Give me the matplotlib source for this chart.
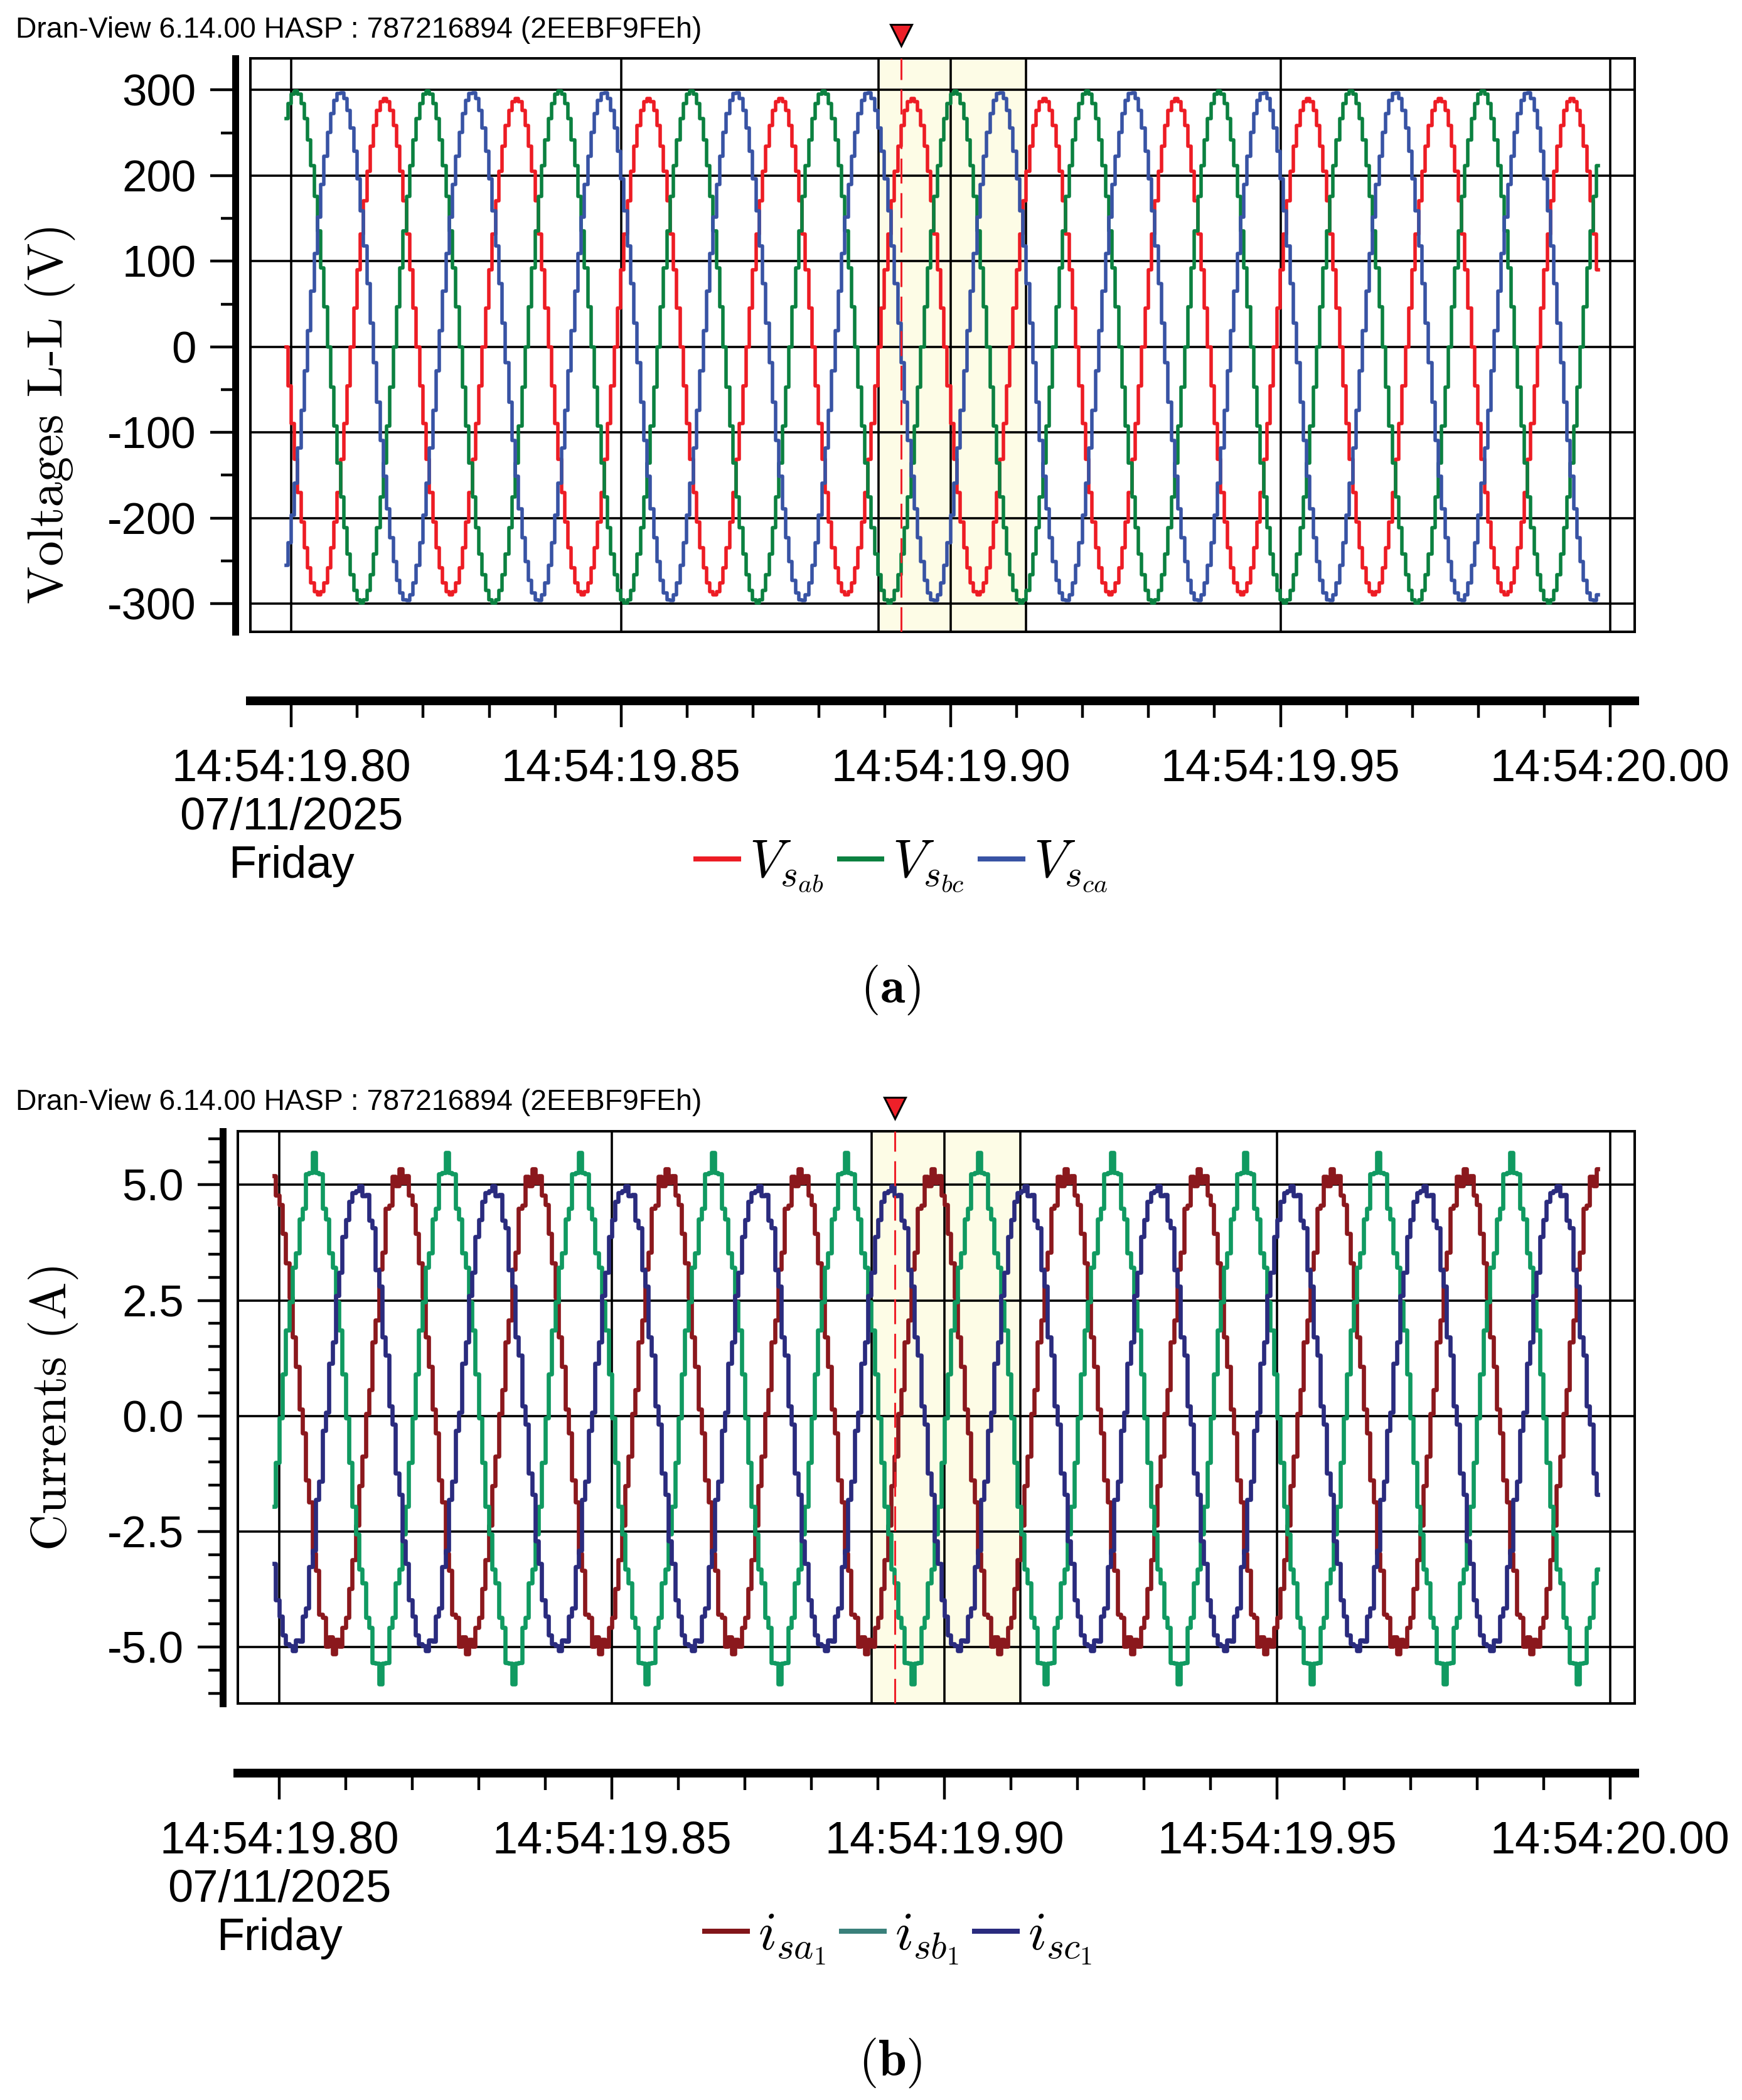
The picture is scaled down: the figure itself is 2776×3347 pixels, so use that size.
import numpy as np
import matplotlib
matplotlib.use('Agg')
import matplotlib.pyplot as plt
import matplotlib.transforms as mtransforms
from matplotlib.lines import Line2D
from matplotlib.ticker import MultipleLocator

plt.rcParams['mathtext.fontset'] = 'cm'
plt.rcParams['font.family'] = ['Liberation Sans', 'DejaVu Sans']

HEADER = 'Dran-View 6.14.00 HASP : 787216894 (2EEBF9FEh)'

# time axis (seconds after 14:54:00)
x_ticks = [19.80, 19.85, 19.90, 19.95, 20.00]
x_tick_labels = ['14:54:19.80\n07/11/2025\nFriday', '14:54:19.85', '14:54:19.90',
                 '14:54:19.95', '14:54:20.00']
t_start, t_end = 19.7992, 19.9985
sample_dt = 0.0005
fund_freq = 50.0

# cursor and highlighted cycle
cursor_t = 19.8925
band = (19.8890, 19.9114)

# line-line voltages
v_names = [r'$V_{s_{ab}}$', r'$V_{s_{bc}}$', r'$V_{s_{ca}}$']
v_colors = ['#ed1c24', '#0b8140', '#3853a4']
v_peak = [290, 299, 297]
v_peak_time = [19.8142, 19.8007, 19.8075]
v_ticks = [300, 200, 100, 0, -100, -200, -300]
v_tick_labels = ['300', '200', '100', '0', '-100', '-200', '-300']

# source currents
i_names = [r'$i_{sa_1}$', r'$i_{sb_1}$', r'$i_{sc_1}$']
i_colors = ['#8b181d', '#109a61', '#2a2b7e']
i_legend_colors = ['#82161a', '#3a807b', '#2a2b7e']
i_peak = [5.2, 5.4, 5.05]
i_offset = [0.1, -0.05, -0.05]
i_peak_time = [19.7983, 19.8052, 19.8120]
i_h5 = [-0.02, 0.035, -0.015]
i_ripple = [0.035, 0.03, 0.035]
i_ticks = [5.0, 2.5, 0.0, -2.5, -5.0]
i_tick_labels = ['5.0', '2.5', '0.0', '-2.5', '-5.0']

PT = 0.72  # points per pixel at dpi 100
t = np.arange(t_start, t_end, sample_dt)


def phase(pt):
    return 2 * np.pi * fund_freq * (t - pt)


fig = plt.figure(figsize=(27.76, 33.47), dpi=100)
ax1 = fig.add_axes([0.14359, 0.69913, 0.79481, 0.27308])
ax2 = fig.add_axes([0.13653, 0.18883, 0.80187, 0.27257])


def style(ax, ylim, yticks, ylabels, yminor, bottom_out):
    xlim = (19.79375, 20.00372)
    ax.set_xlim(*xlim)
    ax.set_ylim(*ylim)
    ax.set_axisbelow(True)
    ax.axvspan(band[0], band[1], color='#fdfce6', lw=0, zorder=0)
    for b in band:
        ax.axvline(b, color='k', lw=2.6, zorder=1)
    ax.set_xticks(x_ticks)
    ax.set_xticklabels(x_tick_labels, linespacing=1.38)
    ax.xaxis.set_minor_locator(MultipleLocator(0.01))
    ax.set_yticks(yticks)
    ax.set_yticklabels(ylabels)
    ax.yaxis.set_minor_locator(MultipleLocator(yminor))
    ax.grid(True, which='major', color='k', lw=2.6)
    for s in ['top', 'right']:
        ax.spines[s].set_linewidth(2.9)
    ax.spines['left'].set_position(('outward', 24 * PT))
    ax.spines['left'].set_linewidth(11 * PT)
    ax.spines['bottom'].set_position(('outward', bottom_out * PT))
    ax.spines['bottom'].set_linewidth(14 * PT)
    ax.axvline(xlim[0], color='k', lw=2.9, clip_on=False)
    ax.axhline(ylim[0], color='k', lw=2.9, clip_on=False)
    ax.tick_params(axis='y', which='major', direction='out', length=40 * PT,
                   width=3.2, pad=16, labelsize=51)
    ax.tick_params(axis='y', which='minor', direction='out', length=23 * PT, width=3.2)
    ax.tick_params(axis='x', which='major', direction='out', length=42 * PT,
                   width=3.2, pad=24, labelsize=52)
    ax.tick_params(axis='x', which='minor', direction='out', length=27 * PT, width=3.2)
    # cursor
    ax.axvline(cursor_t, color='#ee2029', lw=2.2, dashes=(13, 5), zorder=4)
    tr = mtransforms.blended_transform_factory(ax.transData, ax.transAxes)
    ax.plot([cursor_t], [1.040], marker='v', ms=24, mfc='#ee2029', mec='k',
            mew=2.2, transform=tr, clip_on=False, zorder=5)


style(ax1, (-333, 337), v_ticks, v_tick_labels, 50, 110)
style(ax2, (-6.222, 6.163), i_ticks, i_tick_labels, 0.5, 111)

for a, pt, c in zip(v_peak, v_peak_time, v_colors):
    ax1.plot(t, a * np.cos(phase(pt)), drawstyle='steps-mid', color=c, lw=4.0, zorder=3)

for a, off, pt, h5, rp, c in zip(i_peak, i_offset, i_peak_time, i_h5, i_ripple, i_colors):
    th = phase(pt)
    y = off + a * (np.cos(th) + h5 * np.cos(5 * th) + rp * np.cos(19 * th))
    ax2.plot(t, y, drawstyle='steps-mid', color=c, lw=4.8, zorder=3)

# headers
fig.text(0.009, 0.98207, HEADER, fontsize=33.4, va='baseline')
fig.text(0.009, 0.47147, HEADER, fontsize=33.4, va='baseline')

# y labels
fig.text(80 / 2776, 1 - 658 / 3347, 'Voltages L-L (V)', rotation=90, family='cmr10',
         fontsize=58, ha='center', va='center')
fig.text(85 / 2776, 1 - 2241 / 3347, 'Currents (A)', rotation=90, family='cmr10',
         fontsize=58, ha='center', va='center')

# legends
leg_kw = dict(loc='center', ncol=3, frameon=False, fontsize=61, handlelength=0.8,
              handletextpad=0.2, columnspacing=0.3, borderpad=0, borderaxespad=0)
h1 = [Line2D([], [], color=c, lw=5.8) for c in v_colors]
fig.legend(h1, v_names, bbox_to_anchor=(0.5177, 0.5874), **leg_kw)
h2 = [Line2D([], [], color=c, lw=5.8) for c in i_legend_colors]
fig.legend(h2, i_names, bbox_to_anchor=(0.5156, 0.0768), **leg_kw)

# captions
fig.text(0.5112, 0.5285, r'$(\mathbf{a})$', fontsize=58, ha='center', va='center')
fig.text(0.5112, 0.01763, r'$(\mathbf{b})$', fontsize=58, ha='center', va='center')

fig.savefig('out.png', dpi=100)
